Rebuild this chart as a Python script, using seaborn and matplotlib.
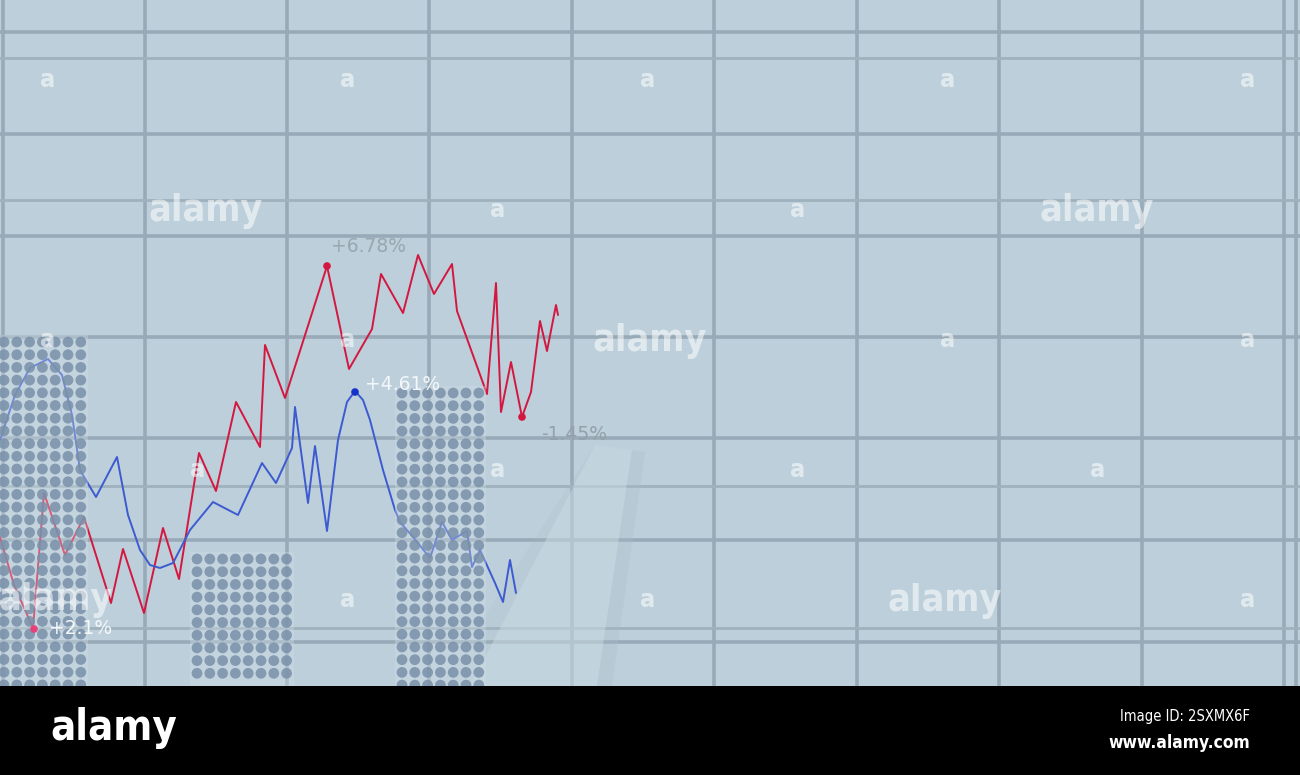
import numpy as np
import pandas as pd
import matplotlib
matplotlib.use("Agg")
import matplotlib.pyplot as plt
import seaborn as sns
import warnings
warnings.filterwarnings('ignore')

# ================================
# Data (pixel-space units, y grows downward)
# ================================
red_x = [0, 14, 33, 44, 65, 84, 111, 123, 144, 163, 179, 199, 216, 236, 260, 265,
         285, 327, 349, 372, 381, 403, 418, 434, 452, 457, 487, 496, 501, 511, 522,
         531, 540, 547, 556, 558]
red_y = [537, 585, 628, 493, 555, 517, 603, 549, 613, 528, 579, 453, 491, 402, 447, 345,
         398, 266, 369, 329, 274, 313, 255, 294, 264, 311, 394, 283, 412, 362, 417,
         392, 321, 351, 305, 315]

blue_x = [0, 15, 30, 48, 62, 72, 80, 96, 117, 128, 140, 150, 160, 173, 190, 213, 238,
          262, 276, 292, 295, 308, 315, 327, 338, 347, 355, 363, 370, 383, 395, 400,
          413, 430, 442, 452, 467, 472, 480, 495, 503, 510, 516]
blue_y = [440, 395, 368, 359, 375, 415, 470, 497, 457, 515, 550, 565, 568, 563, 530, 502, 515,
          463, 483, 448, 407, 503, 446, 531, 440, 402, 391, 400, 420, 470, 510, 522,
          537, 558, 522, 540, 531, 567, 550, 583, 602, 560, 593]

# dotted bars: first column centre, columns, top row
bar_left = [4, 197, 402]
bar_cols = [7, 8, 7]
bar_top = [342, 559, 393]

# highlighted points and their labels
mark_x = [34, 327, 355, 522]
mark_y = [629, 266, 392, 417]
mark_color = ['#e8407a', '#d4173f', '#1532c8', '#d4173f']
label_text = ['+2.1%', '+6.78%', '+4.61%', '-1.45%']
label_x = [49, 331, 365, 541]
label_y = [628, 247, 384, 435]
label_color = ['#f4f7fa', '#9aa6b0', '#f4f7fa', '#95a0aa']

# grid
grid_x = [3, 145, 287, 429, 572, 714, 857, 999, 1142, 1284, 1296]
grid_y = [32, 134, 236, 337, 438, 540, 642]
grid_y_minor = [58, 200, 486, 628]

# watermark layout
wm_big = [(206, 211), (1097, 211), (650, 341), (56, 600), (945, 601)]
wm_small = [(48, 80), (348, 80), (648, 80), (948, 80), (1248, 80),
            (498, 210), (798, 210), (48, 340), (348, 340), (948, 340), (1248, 340),
            (198, 470), (498, 470), (798, 470), (1098, 470),
            (348, 600), (648, 600), (1248, 600)]

W, H, BAND = 1300, 775, 89
BG = '#bccfdb'
NARROW = dict(family=['DejaVu Sans'], fontstretch='condensed')

sns.set_style('white')
plt.rcParams['font.family'] = ['DejaVu Sans']

fig = plt.figure(figsize=(13, 7.75), dpi=100)
ax = fig.add_axes([0, BAND / H, 1, (H - BAND) / H])
ax.set_facecolor(BG)
ax.set_xlim(0, W)
ax.set_ylim(H - BAND, 0)

# grid lines through the tick machinery
ax.set_xticks(grid_x)
ax.set_yticks(grid_y)
ax.set_yticks(grid_y_minor, minor=True)
ax.grid(True, which='major', color='#98aab7', linewidth=2.6)
ax.grid(True, which='minor', axis='y', color='#9fb1bd', linewidth=2.0)
ax.tick_params(length=0, labelbottom=False, labelleft=False, which='both')
ax.set_axisbelow(True)
for s in ax.spines.values():
    s.set_visible(False)

# folded paper wedge
ax.fill([470, 595, 632, 597], [686, 445, 450, 686], color='#c6d6e0', alpha=0.6, zorder=1, lw=0)
ax.fill([597, 632, 645, 612], [686, 450, 452, 686], color='#a9bcc8', alpha=0.3, zorder=1, lw=0)
ax.fill([440, 595, 470], [686, 445, 686], color='#a9bcc8', alpha=0.2, zorder=1, lw=0)

# lines
sns.lineplot(x=red_x, y=red_y, sort=False, estimator=None, color='#d4173f', lw=1.4, ax=ax, zorder=3)
sns.lineplot(x=blue_x, y=blue_y, sort=False, estimator=None, color='#3d5ad0', lw=1.4, ax=ax, zorder=3)

# translucent bar panels + dot matrix
rows = []
for left, ncol, top in zip(bar_left, bar_cols, bar_top):
    xs = left + 12.8 * np.arange(ncol)
    ys = np.arange(top, H - BAND, 12.7)
    ax.fill_between([left - 7, xs[-1] + 7], top - 7, H - BAND, color='#d4e0e8', alpha=0.35, lw=0, zorder=4)
    for yy in ys:
        for xx in xs:
            rows.append((xx, yy))
dots = pd.DataFrame(rows, columns=['x', 'y'])
sns.scatterplot(data=dots, x='x', y='y', s=60, color='#7890a9', alpha=0.85,
                edgecolor='none', ax=ax, zorder=5)

# highlighted points
sns.scatterplot(x=mark_x, y=mark_y, hue=label_text, palette=mark_color, s=30,
                edgecolor='none', legend=False, ax=ax, zorder=6)
for t, x, y, c in zip(label_text, label_x, label_y, label_color):
    ax.text(x, y, t, color=c, fontsize=13.5, va='center', ha='left', zorder=7)

# watermarks
for x, y in wm_big:
    ax.text(x, y, 'alamy', color='white', alpha=0.55, fontsize=27, fontweight='bold',
            ha='center', va='center', zorder=8, **NARROW)
for x, y in wm_small:
    ax.text(x, y, 'a', color='white', alpha=0.55, fontsize=18, fontweight='bold',
            ha='center', va='center', zorder=8, **NARROW)
ax.set_xlabel('')
ax.set_ylabel('')

# bottom band
band = fig.add_axes([0, 0, 1, BAND / H])
band.set_facecolor('black')
band.set_xlim(0, W)
band.set_ylim(BAND, 0)
band.axis('off')
band.add_patch(plt.Rectangle((0, 0), W, BAND, color='black'))
band.text(50, 42, 'alamy', color='white', fontsize=30, fontweight='bold',
          ha='left', va='center', **NARROW)
band.text(1250, 30, 'Image ID: 2SXMX6F', color='white', fontsize=10.5,
          ha='right', va='center', **NARROW)
band.text(1250, 57, 'www.alamy.com', color='white', fontsize=12.5, fontweight='bold',
          ha='right', va='center', **NARROW)

fig.savefig('out.png', dpi=100, facecolor='black')
